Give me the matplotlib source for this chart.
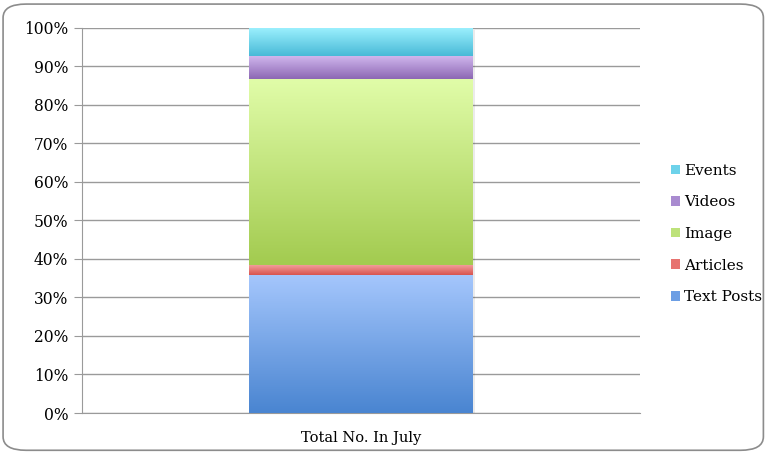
import numpy as np
import matplotlib.pyplot as plt
from matplotlib.colors import LinearSegmentedColormap
from matplotlib.patches import Patch, FancyBboxPatch, Rectangle

# --- data (percent of total) ---
category = "Total No. In July"
series = ["Text Posts", "Articles", "Image", "Videos", "Events"]
values = [35.8, 2.6, 48.3, 6.1, 7.2]
# (top colour, bottom colour) for each gradient fill
tops = ["#a4c6fc", "#f4a3a1", "#e0fca8", "#d2b9ef", "#9aeffd"]
bottoms = ["#4a85d1", "#d8544f", "#a3cb50", "#8d68b4", "#49bad7"]
mids = ["#6c9ee4", "#e77370", "#bde27a", "#a98bd0", "#6dd2ea"]

plt.rcParams['font.family'] = ['DejaVu Serif']

fig = plt.figure(figsize=(7.68, 4.53), dpi=100)
ax = fig.add_axes([0.1068, 0.0883, 0.7266, 0.8499])

# rounded chart border
fig.patches.append(FancyBboxPatch((0.004, 0.006), 0.99, 0.985,
                                  boxstyle="round,pad=0,rounding_size=0.03",
                                  transform=fig.transFigure, fill=False,
                                  edgecolor="#8c8c8c", linewidth=1.2, zorder=0))

x = 0
width = 0.4
bottom = 0
for name, v, ct, cb in zip(series, values, tops, bottoms):
    cmap = LinearSegmentedColormap.from_list(name, [cb, ct])
    grad = np.linspace(0, 1, 64).reshape(-1, 1)
    ax.imshow(grad, cmap=cmap, origin="lower", aspect="auto",
              extent=[x - width / 2, x + width / 2, bottom, bottom + v], zorder=3)
    bottom += v

# faint shadow behind the bar
ax.add_patch(Rectangle((x - width / 2 + 0.004, -0.6), width, 100, facecolor="#000000",
                       alpha=0.08, zorder=2, linewidth=0))

ax.set_xlim(-0.5, 0.5)
ax.set_ylim(0, 100)
ax.set_yticks(np.arange(0, 101, 10))
ax.set_yticklabels([f"{t}%" for t in range(0, 101, 10)], fontsize=11.2)
ax.set_xticks([0])
ax.set_xticklabels([category], fontsize=10.5)
ax.tick_params(axis="x", length=0, pad=13)
ax.tick_params(axis="y", length=6, color="#9a9a9a", pad=4)
ax.grid(axis="y", color="#9a9a9a", linewidth=1)
ax.set_axisbelow(True)
for s in ["top", "right"]:
    ax.spines[s].set_visible(False)
for s in ["left", "bottom"]:
    ax.spines[s].set_color("#9a9a9a")
    ax.spines[s].set_zorder(1)

handles = [Patch(facecolor=c, edgecolor="none", label=n) for n, c in zip(series, mids)]
leg = ax.legend(handles=handles[::-1], loc="center left", bbox_to_anchor=(1.03, 0.465),
                frameon=False, fontsize=11, handlelength=0.6, handleheight=0.6,
                handletextpad=0.3, labelspacing=1.15)

fig.savefig("out.png", dpi=100)
